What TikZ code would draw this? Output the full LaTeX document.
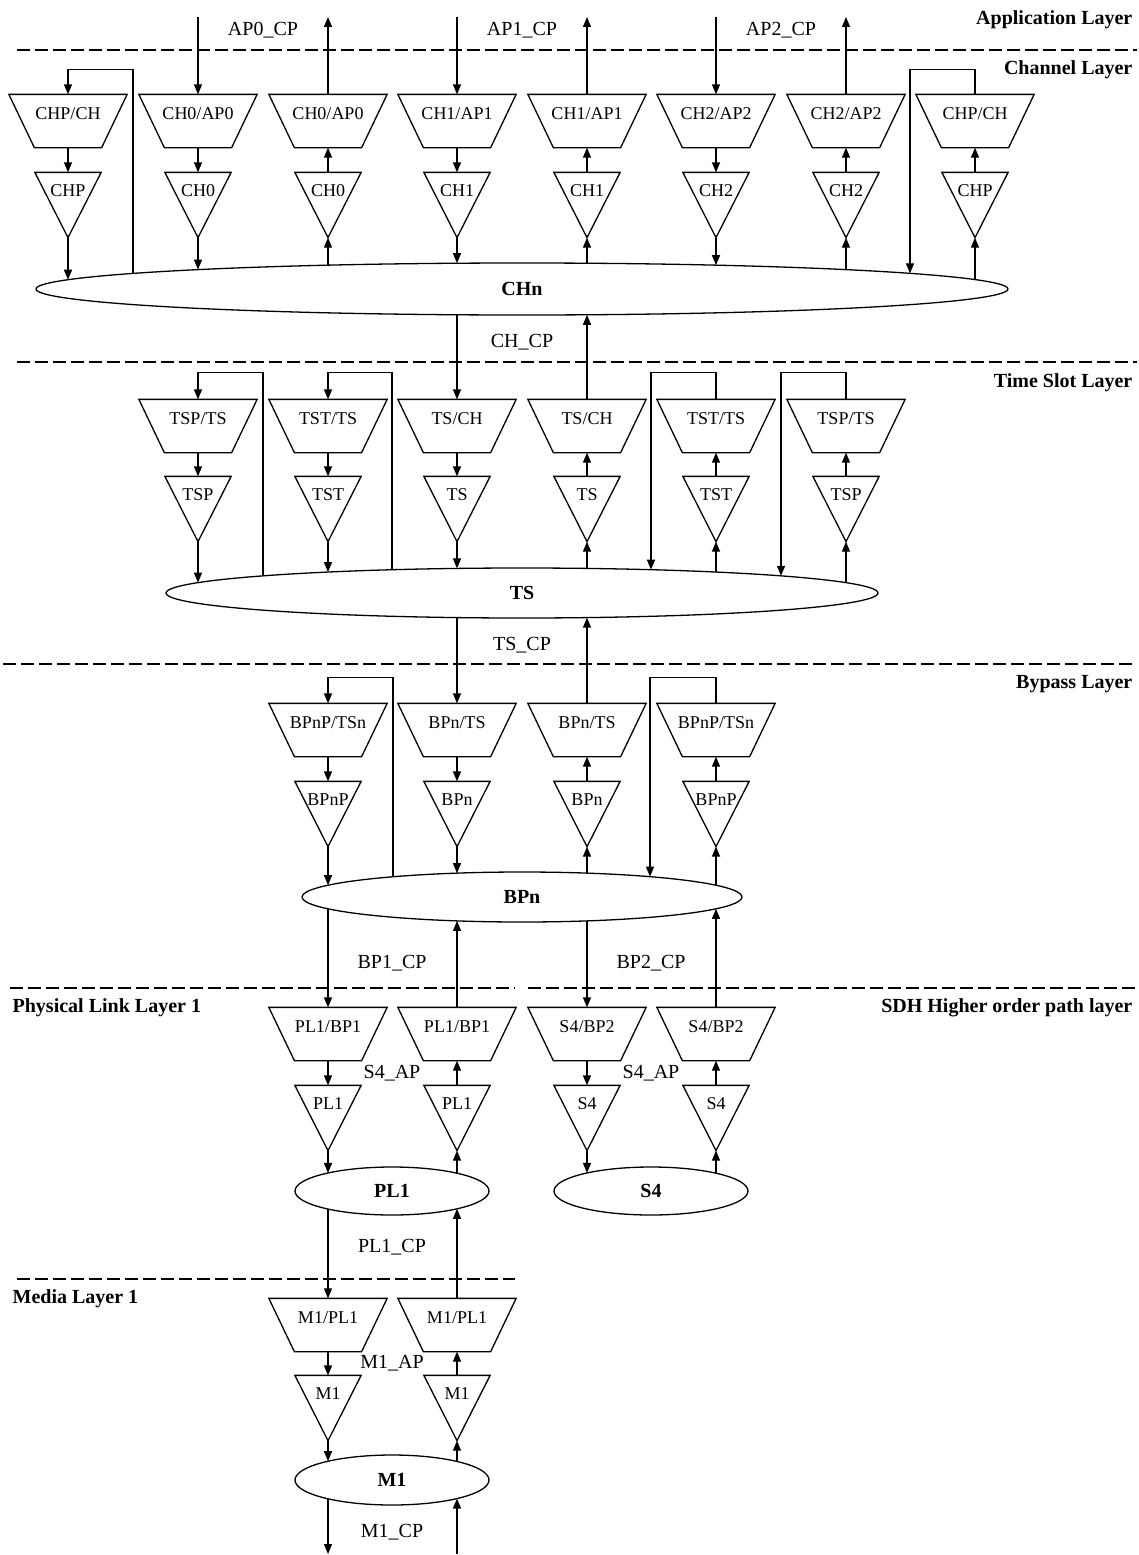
\documentclass[tikz,border=0pt]{standalone}
\usepackage{fontspec}
\setmainfont{Liberation Serif}
\usetikzlibrary{shapes.geometric,arrows.meta}
\newcommand\boxfont{\fontsize{18}{20}\selectfont}
\newcommand\cpfont{\fontsize{20}{22}\selectfont}
\newcommand\layfont{\fontsize{20}{22}\selectfont\bfseries}
% trapezoid node: name, x, y(center), text
\newcommand\Trap[4]{%
  \node[trapbox] (#1) at (#2,#3) {#4};
  \draw (#1.north west) -- (#1.north east) -- ([xshift=-25.5pt]#1.south east) -- ([xshift=25.5pt]#1.south west) -- cycle;}
% triangle node: name, x, y(center), text
\newcommand\Tri[4]{%
  \node[tribox] (#1) at (#2,#3) {#4};
  \draw (#1.north west) -- (#1.north east) -- (#1.south) -- cycle;}
% point on an ellipse: name, cx, cy, rx, ry, x, sign (-1 top, 1 bottom)
\newcommand\EPt[7]{\coordinate (#1) at (#6,{#3+(#7)*#5*sqrt(1-((#6-#2)/#4)*((#6-#2)/#4))});}
\begin{document}
\begin{tikzpicture}[x=1pt,y=-1pt,line width=1.3pt,
  arr/.style={-{Triangle[length=10pt,width=8pt]}},
  layerdash/.style={dash pattern=on 13pt off 5pt},
  trapbox/.style={minimum width=117pt,minimum height=52pt,inner sep=0pt,font=\boxfont,text height=12pt,text depth=16pt},
  tribox/.style={minimum width=65pt,minimum height=64pt,inner sep=0pt,font=\boxfont,text height=12pt,text depth=30pt},
  ell/.style={ellipse,draw,inner sep=0pt,font=\layfont},
  cplabel/.style={inner sep=0pt,font=\cpfont},
  layerlabel/.style={inner sep=0pt,font=\layfont}]
\useasboundingbox (0,0) rectangle (1139,1555);

% ---------------- layer separators ----------------
\draw[layerdash] (17,50) -- (1137,50);
\draw[layerdash] (17,362) -- (1137,362);
\draw[layerdash] (3,664) -- (1133,664);
\draw[layerdash] (10,988) -- (515,988);
\draw[layerdash] (528,988) -- (1135,988);
\draw[layerdash] (17,1279) -- (515,1279);

% ---------------- layer labels ----------------
\node[layerlabel,anchor=east] (lapp) at (1133,20) {Application Layer};
\node[layerlabel,anchor=east] (lch) at (1133,70) {Channel Layer};
\node[layerlabel,anchor=east] (lts) at (1133,383) {Time Slot Layer};
\node[layerlabel,anchor=east] (lbp) at (1133,684) {Bypass Layer};
\node[layerlabel,anchor=west] (lpl) at (12,1008) {Physical Link Layer 1};
\node[layerlabel,anchor=east] (lsdh) at (1133,1008) {SDH Higher order path layer};
\node[layerlabel,anchor=west] (lmed) at (12,1299) {Media Layer 1};

% ---------------- channel layer ----------------
\Trap{c0t}{68}{121}{CHP/CH}   \Tri{c0v}{68}{205}{CHP}
\Trap{c1t}{198}{121}{CH0/AP0} \Tri{c1v}{198}{205}{CH0}
\Trap{c2t}{328}{121}{CH0/AP0} \Tri{c2v}{328}{205}{CH0}
\Trap{c3t}{457}{121}{CH1/AP1} \Tri{c3v}{457}{205}{CH1}
\Trap{c4t}{587}{121}{CH1/AP1} \Tri{c4v}{587}{205}{CH1}
\Trap{c5t}{716}{121}{CH2/AP2} \Tri{c5v}{716}{205}{CH2}
\Trap{c6t}{846}{121}{CH2/AP2} \Tri{c6v}{846}{205}{CH2}
\Trap{c7t}{975}{121}{CHP/CH}  \Tri{c7v}{975}{205}{CHP}
\node[ell,minimum width=972pt,minimum height=52pt] (chn) at (522,289) {CHn};
\EPt{chnT0}{522}{289}{486}{26}{68}{-1}
\EPt{chnT1}{522}{289}{486}{26}{198}{-1}
\EPt{chnT2}{522}{289}{486}{26}{328}{-1}
\EPt{chnT3}{522}{289}{486}{26}{457}{-1}
\EPt{chnT4}{522}{289}{486}{26}{587}{-1}
\EPt{chnT5}{522}{289}{486}{26}{716}{-1}
\EPt{chnT6}{522}{289}{486}{26}{846}{-1}
\EPt{chnT7}{522}{289}{486}{26}{975}{-1}
\EPt{chnL}{522}{289}{486}{26}{133}{-1}
\EPt{chnR}{522}{289}{486}{26}{910}{-1}
\EPt{chnB3}{522}{289}{486}{26}{457}{1}
\EPt{chnB4}{522}{289}{486}{26}{587}{1}
\coordinate (ap0in) at (198,17);
\coordinate (ap0out) at (328,17);
\coordinate (ap1in) at (457,17);
\coordinate (ap1out) at (587,17);
\coordinate (ap2in) at (716,17);
\coordinate (ap2out) at (846,17);
\node[cplabel] (lap0) at (263,30) {AP0\_CP};
\node[cplabel] (lap1) at (522,30) {AP1\_CP};
\node[cplabel] (lap2) at (781,30) {AP2\_CP};

\draw[arr] (chnL) |- ([yshift=25pt]c0t.north) -- (c0t.north);
\draw[arr] (c0t.south) -- (c0v.north);
\draw[arr] (c0v.south) -- (chnT0);
\draw[arr] (ap0in) -- (c1t.north);
\draw[arr] (c1t.south) -- (c1v.north);
\draw[arr] (c1v.south) -- (chnT1);
\draw[arr] (chnT2) -- (c2v.south);
\draw[arr] (c2v.north) -- (c2t.south);
\draw[arr] (c2t.north) -- (ap0out);
\draw[arr] (ap1in) -- (c3t.north);
\draw[arr] (c3t.south) -- (c3v.north);
\draw[arr] (c3v.south) -- (chnT3);
\draw[arr] (chnT4) -- (c4v.south);
\draw[arr] (c4v.north) -- (c4t.south);
\draw[arr] (c4t.north) -- (ap1out);
\draw[arr] (ap2in) -- (c5t.north);
\draw[arr] (c5t.south) -- (c5v.north);
\draw[arr] (c5v.south) -- (chnT5);
\draw[arr] (chnT6) -- (c6v.south);
\draw[arr] (c6v.north) -- (c6t.south);
\draw[arr] (c6t.north) -- (ap2out);
\draw[arr] (chnT7) -- (c7v.south);
\draw[arr] (c7v.north) -- (c7t.south);
\draw[arr] (c7t.north) -- ([yshift=25pt]c7t.north) -| (chnR);

% ---------------- time slot layer ----------------
\Trap{s0t}{198}{426}{TSP/TS} \Tri{s0v}{198}{509}{TSP}
\Trap{s1t}{328}{426}{TST/TS} \Tri{s1v}{328}{509}{TST}
\Trap{s2t}{457}{426}{TS/CH}  \Tri{s2v}{457}{509}{TS}
\Trap{s3t}{587}{426}{TS/CH}  \Tri{s3v}{587}{509}{TS}
\Trap{s4t}{716}{426}{TST/TS} \Tri{s4v}{716}{509}{TST}
\Trap{s5t}{846}{426}{TSP/TS} \Tri{s5v}{846}{509}{TSP}
\node[ell,minimum width=712pt,minimum height=50pt] (ts) at (522,593) {TS};
\EPt{tsT0}{522}{593}{356}{25}{198}{-1}
\EPt{tsT1}{522}{593}{356}{25}{328}{-1}
\EPt{tsT2}{522}{593}{356}{25}{457}{-1}
\EPt{tsT3}{522}{593}{356}{25}{587}{-1}
\EPt{tsT4}{522}{593}{356}{25}{716}{-1}
\EPt{tsT5}{522}{593}{356}{25}{846}{-1}
\EPt{tsL0}{522}{593}{356}{25}{263}{-1}
\EPt{tsL1}{522}{593}{356}{25}{392}{-1}
\EPt{tsR0}{522}{593}{356}{25}{651}{-1}
\EPt{tsR1}{522}{593}{356}{25}{781}{-1}
\EPt{tsB2}{522}{593}{356}{25}{457}{1}
\EPt{tsB3}{522}{593}{356}{25}{587}{1}
\node[cplabel] (lchcp) at (522,342) {CH\_CP};
\draw[arr] (chnB3) -- (s2t.north);
\draw[arr] (s3t.north) -- (chnB4);

\draw[arr] (tsL0) |- ([yshift=27pt]s0t.north) -- (s0t.north);
\draw[arr] (s0t.south) -- (s0v.north);
\draw[arr] (s0v.south) -- (tsT0);
\draw[arr] (tsL1) |- ([yshift=27pt]s1t.north) -- (s1t.north);
\draw[arr] (s1t.south) -- (s1v.north);
\draw[arr] (s1v.south) -- (tsT1);
\draw[arr] (s2t.south) -- (s2v.north);
\draw[arr] (s2v.south) -- (tsT2);
\draw[arr] (tsT3) -- (s3v.south);
\draw[arr] (s3v.north) -- (s3t.south);
\draw[arr] (tsT4) -- (s4v.south);
\draw[arr] (s4v.north) -- (s4t.south);
\draw[arr] (s4t.north) -- ([yshift=27pt]s4t.north) -| (tsR0);
\draw[arr] (tsT5) -- (s5v.south);
\draw[arr] (s5v.north) -- (s5t.south);
\draw[arr] (s5t.north) -- ([yshift=27pt]s5t.north) -| (tsR1);

% ---------------- bypass layer ----------------
\Trap{b0t}{328}{730}{BPnP/TSn} \Tri{b0v}{328}{814}{BPnP}
\Trap{b1t}{457}{730}{BPn/TS}   \Tri{b1v}{457}{814}{BPn}
\Trap{b2t}{587}{730}{BPn/TS}   \Tri{b2v}{587}{814}{BPn}
\Trap{b3t}{716}{730}{BPnP/TSn} \Tri{b3v}{716}{814}{BPnP}
\node[ell,minimum width=440pt,minimum height=50pt] (bpn) at (522,897) {BPn};
\EPt{bpT0}{522}{897}{220}{25}{328}{-1}
\EPt{bpT1}{522}{897}{220}{25}{457}{-1}
\EPt{bpT2}{522}{897}{220}{25}{587}{-1}
\EPt{bpT3}{522}{897}{220}{25}{716}{-1}
\EPt{bpL}{522}{897}{220}{25}{393}{-1}
\EPt{bpR}{522}{897}{220}{25}{650}{-1}
\EPt{bpB0}{522}{897}{220}{25}{328}{1}
\EPt{bpB1}{522}{897}{220}{25}{457}{1}
\EPt{bpB2}{522}{897}{220}{25}{587}{1}
\EPt{bpB3}{522}{897}{220}{25}{716}{1}
\node[cplabel] (ltscp) at (522,645) {TS\_CP};
\draw[arr] (tsB2) -- (b1t.north);
\draw[arr] (b2t.north) -- (tsB3);

\draw[arr] (bpL) |- ([yshift=26pt]b0t.north) -- (b0t.north);
\draw[arr] (b0t.south) -- (b0v.north);
\draw[arr] (b0v.south) -- (bpT0);
\draw[arr] (b1t.south) -- (b1v.north);
\draw[arr] (b1v.south) -- (bpT1);
\draw[arr] (bpT2) -- (b2v.south);
\draw[arr] (b2v.north) -- (b2t.south);
\draw[arr] (bpT3) -- (b3v.south);
\draw[arr] (b3v.north) -- (b3t.south);
\draw[arr] (b3t.north) -- ([yshift=26pt]b3t.north) -| (bpR);

% ---------------- physical link / SDH layer ----------------
\Trap{p0t}{328}{1034}{PL1/BP1} \Tri{p0v}{328}{1118}{PL1}
\Trap{p1t}{457}{1034}{PL1/BP1} \Tri{p1v}{457}{1118}{PL1}
\Trap{q0t}{587}{1034}{S4/BP2}  \Tri{q0v}{587}{1118}{S4}
\Trap{q1t}{716}{1034}{S4/BP2}  \Tri{q1v}{716}{1118}{S4}
\node[ell,minimum width=194pt,minimum height=48pt] (pl1) at (392,1191) {PL1};
\node[ell,minimum width=194pt,minimum height=48pt] (s4) at (651,1191) {S4};
\EPt{plT0}{392}{1191}{97}{24}{328}{-1}
\EPt{plT1}{392}{1191}{97}{24}{457}{-1}
\EPt{plB0}{392}{1191}{97}{24}{328}{1}
\EPt{plB1}{392}{1191}{97}{24}{457}{1}
\EPt{s4T0}{651}{1191}{97}{24}{587}{-1}
\EPt{s4T1}{651}{1191}{97}{24}{716}{-1}
\node[cplabel] (lbp1) at (392,963) {BP1\_CP};
\node[cplabel] (lbp2) at (651,963) {BP2\_CP};
\node[cplabel] (ls4a) at (392,1073) {S4\_AP};
\node[cplabel] (ls4b) at (651,1073) {S4\_AP};
\draw[arr] (bpB0) -- (p0t.north);
\draw[arr] (p1t.north) -- (bpB1);
\draw[arr] (bpB2) -- (q0t.north);
\draw[arr] (q1t.north) -- (bpB3);
\draw[arr] (p0t.south) -- (p0v.north);
\draw[arr] (p0v.south) -- (plT0);
\draw[arr] (plT1) -- (p1v.south);
\draw[arr] (p1v.north) -- (p1t.south);
\draw[arr] (q0t.south) -- (q0v.north);
\draw[arr] (q0v.south) -- (s4T0);
\draw[arr] (s4T1) -- (q1v.south);
\draw[arr] (q1v.north) -- (q1t.south);

% ---------------- media layer ----------------
\Trap{m0t}{328}{1325}{M1/PL1} \Tri{m0v}{328}{1408}{M1}
\Trap{m1t}{457}{1325}{M1/PL1} \Tri{m1v}{457}{1408}{M1}
\node[ell,minimum width=194pt,minimum height=50pt] (m1) at (392,1480) {M1};
\EPt{mT0}{392}{1480}{97}{25}{328}{-1}
\EPt{mT1}{392}{1480}{97}{25}{457}{-1}
\EPt{mB0}{392}{1480}{97}{25}{328}{1}
\EPt{mB1}{392}{1480}{97}{25}{457}{1}
\coordinate (bot0) at (328,1554);
\coordinate (bot1) at (457,1554);
\node[cplabel] (lpl1cp) at (392,1247) {PL1\_CP};
\node[cplabel] (lm1ap) at (392,1363) {M1\_AP};
\node[cplabel] (lm1cp) at (392,1532) {M1\_CP};
\draw[arr] (plB0) -- (m0t.north);
\draw[arr] (m1t.north) -- (plB1);
\draw[arr] (m0t.south) -- (m0v.north);
\draw[arr] (m0v.south) -- (mT0);
\draw[arr] (mT1) -- (m1v.south);
\draw[arr] (m1v.north) -- (m1t.south);
\draw[arr] (mB0) -- (bot0);
\draw[arr] (bot1) -- (mB1);
\end{tikzpicture}
\end{document}
